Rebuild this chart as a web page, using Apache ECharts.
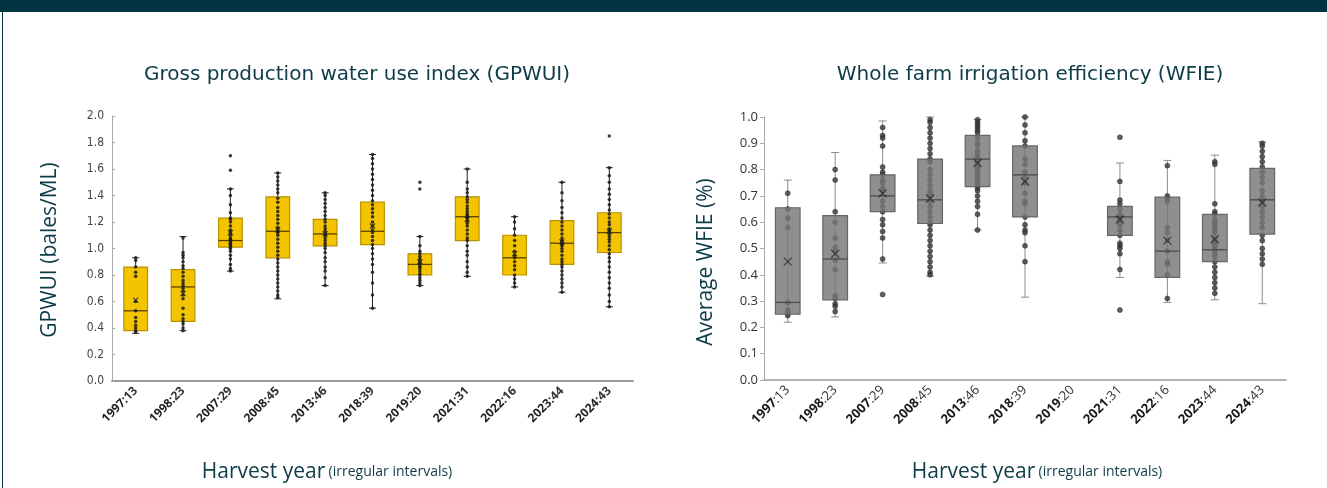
<!DOCTYPE html>
<html><head><meta charset="utf-8">
<script src="https://cdn.jsdelivr.net/npm/echarts@6/dist/echarts.min.js"></script>
<style>html,body{margin:0;padding:0;background:#fff}#c{width:1327px;height:488px}</style>
</head><body><div id="c"></div>
<script>
// ---------- DATA ----------
const categories = ['1997:13','1998:23','2007:29','2008:45','2013:46','2018:39','2019:20','2021:31','2022:16','2023:44','2024:43'];

// GPWUI (bales/ML): [min, Q1, median, Q3, max]
const gpwuiBoxes = [
  [0.36, 0.38, 0.53, 0.86, 0.93],
  [0.38, 0.45, 0.71, 0.84, 1.09],
  [0.83, 1.01, 1.06, 1.23, 1.45],
  [0.62, 0.93, 1.13, 1.39, 1.57],
  [0.72, 1.02, 1.11, 1.22, 1.42],
  [0.55, 1.03, 1.13, 1.35, 1.71],
  [0.72, 0.80, 0.88, 0.96, 1.09],
  [0.79, 1.06, 1.24, 1.39, 1.60],
  [0.71, 0.80, 0.93, 1.10, 1.24],
  [0.67, 0.88, 1.04, 1.21, 1.50],
  [0.56, 0.97, 1.12, 1.27, 1.61]
];
const gpwuiMeans = [0.61, 0.66, 1.12, 1.14, 1.11, 1.17, 0.90, 1.22, 0.96, 1.05, 1.13];
const gpwuiPoints = [
  [0.93,0.91,0.86,0.82,0.79,0.60,0.53,0.48,0.45,0.42,0.40,0.38,0.37],
  [1.08,0.97,0.95,0.93,0.90,0.87,0.85,0.82,0.79,0.76,0.74,0.72,0.70,0.68,0.65,0.62,0.55,0.50,0.47,0.45,0.43,0.40,0.38],
  [1.70,1.59,1.45,1.40,1.33,1.27,1.23,1.22,1.20,1.17,1.14,1.12,1.10,1.08,1.07,1.06,1.05,1.04,1.03,1.02,1.01,1.00,0.98,0.95,0.92,0.88,0.85,0.83],
  [1.57,1.54,1.51,1.48,1.45,1.42,1.38,1.35,1.31,1.28,1.25,1.22,1.19,1.16,1.14,1.13,1.12,1.10,1.07,1.04,1.01,0.98,0.95,0.92,0.89,0.86,0.83,0.80,0.77,0.74,0.71,0.68,0.65,0.63],
  [1.42,1.40,1.37,1.34,1.31,1.28,1.25,1.22,1.20,1.17,1.15,1.13,1.11,1.10,1.08,1.06,1.04,1.02,1.00,0.97,0.93,0.90,0.86,0.83,0.78,0.72],
  [1.71,1.68,1.64,1.60,1.56,1.52,1.48,1.44,1.40,1.36,1.33,1.30,1.27,1.24,1.20,1.17,1.14,1.12,1.09,1.06,1.03,1.00,0.96,0.92,0.88,0.82,0.74,0.65,0.55],
  [1.50,1.45,1.09,1.02,0.98,0.96,0.94,0.92,0.90,0.89,0.87,0.86,0.85,0.83,0.81,0.80,0.78,0.76,0.74,0.72],
  [1.60,1.50,1.45,1.42,1.39,1.37,1.35,1.32,1.30,1.28,1.26,1.25,1.24,1.23,1.21,1.19,1.17,1.14,1.11,1.08,1.06,1.02,0.98,0.95,0.90,0.86,0.82,0.79],
  [1.24,1.20,1.15,1.10,1.06,1.02,0.98,0.95,0.93,0.90,0.87,0.84,0.80,0.77,0.74,0.71],
  [1.50,1.42,1.36,1.31,1.27,1.23,1.20,1.17,1.14,1.11,1.08,1.06,1.05,1.04,1.03,1.02,1.00,0.98,0.95,0.92,0.90,0.88,0.86,0.83,0.80,0.77,0.74,0.71,0.67],
  [1.85,1.61,1.55,1.50,1.45,1.41,1.37,1.33,1.29,1.26,1.23,1.20,1.18,1.15,1.13,1.11,1.09,1.07,1.05,1.02,0.99,0.96,0.93,0.90,0.86,0.82,0.78,0.74,0.70,0.65,0.60,0.56]
];
const gpwuiTicks = [0,0.2,0.4,0.6,0.8,1.0,1.2,1.4,1.6,1.8,2.0];

// WFIE: [min, Q1, median, Q3, max]; 2019 has no data
const wfieBoxes = [
  [0.22, 0.25, 0.295, 0.655, 0.76],
  [0.24, 0.305, 0.46, 0.625, 0.865],
  [0.445, 0.64, 0.70, 0.78, 0.985],
  [0.395, 0.595, 0.685, 0.84, 1.0],
  [0.57, 0.735, 0.84, 0.93, 0.99],
  [0.315, 0.62, 0.78, 0.89, 1.0],
  null,
  [0.39, 0.55, 0.62, 0.66, 0.825],
  [0.295, 0.39, 0.49, 0.695, 0.835],
  [0.305, 0.45, 0.495, 0.63, 0.855],
  [0.29, 0.555, 0.685, 0.805, 0.905]
];
const wfieMeans = [0.45, 0.48, 0.71, 0.69, 0.825, 0.755, null, 0.61, 0.53, 0.535, 0.675];
const wfiePoints = [
  [0.71,0.65,0.615,0.58,0.295,0.265,0.255,0.245],
  [0.80,0.76,0.64,0.60,0.54,0.505,0.49,0.455,0.42,0.32,0.31,0.29,0.28,0.26],
  [0.96,0.93,0.92,0.89,0.81,0.79,0.78,0.76,0.75,0.73,0.72,0.68,0.66,0.64,0.61,0.59,0.565,0.54,0.46,0.325],
  [0.99,0.98,0.96,0.94,0.92,0.90,0.88,0.86,0.84,0.83,0.80,0.78,0.76,0.74,0.72,0.71,0.70,0.68,0.66,0.64,0.62,0.60,0.59,0.57,0.55,0.53,0.51,0.49,0.47,0.45,0.43,0.41,0.40],
  [0.99,0.98,0.97,0.96,0.95,0.94,0.92,0.90,0.89,0.87,0.86,0.85,0.84,0.83,0.82,0.81,0.80,0.79,0.78,0.77,0.76,0.75,0.74,0.73,0.72,0.70,0.68,0.66,0.63,0.57],
  [1.0,0.97,0.94,0.91,0.89,0.84,0.82,0.79,0.77,0.75,0.71,0.68,0.67,0.62,0.59,0.57,0.56,0.51,0.45],
  [],
  [0.923,0.755,0.684,0.67,0.65,0.63,0.62,0.61,0.60,0.59,0.57,0.55,0.52,0.51,0.50,0.48,0.42,0.266],
  [0.815,0.70,0.69,0.68,0.58,0.56,0.53,0.49,0.45,0.44,0.40,0.31],
  [0.83,0.82,0.67,0.64,0.63,0.61,0.60,0.59,0.58,0.57,0.56,0.54,0.53,0.52,0.51,0.50,0.49,0.48,0.47,0.45,0.43,0.41,0.39,0.37,0.35,0.33],
  [0.90,0.89,0.87,0.85,0.83,0.81,0.79,0.77,0.75,0.72,0.70,0.68,0.66,0.64,0.62,0.60,0.58,0.55,0.53,0.50,0.48,0.46,0.44]
];
const wfieTicks = [0,0.1,0.2,0.3,0.4,0.5,0.6,0.7,0.8,0.9,1.0];

// ---------- BUILD ----------
const TEAL = '#0d3b47';
function boxData(boxes){ const out=[]; boxes.forEach((b,i)=>{ if(b) out.push([i].concat(b)); }); return out; }
function pointData(pts){ const out=[]; pts.forEach((arr,i)=>arr.forEach(v=>out.push([i,v]))); return out; }
function meanData(m){ const out=[]; m.forEach((v,i)=>{ if(v!=null) out.push([i,v]); }); return out; }

function whiskerRender(color, cap){
  return function(params, api){
    const i = api.value(0);
    const pMin = api.coord([i, api.value(1)]);
    const pMax = api.coord([i, api.value(5)]);
    const x = pMin[0];
    const st = {stroke: color, lineWidth: 1};
    return {type:'group', children:[
      {type:'line', shape:{x1:x,y1:pMax[1],x2:x,y2:pMin[1]}, style:st},
      {type:'line', shape:{x1:x-cap/2,y1:pMax[1],x2:x+cap/2,y2:pMax[1]}, style:st},
      {type:'line', shape:{x1:x-cap/2,y1:pMin[1],x2:x+cap/2,y2:pMin[1]}, style:st}
    ]};
  };
}
function boxRender(fill, stroke, medColor, ratio){
  return function(params, api){
    const i = api.value(0);
    const pQ1 = api.coord([i, api.value(2)]);
    const pMed = api.coord([i, api.value(3)]);
    const pQ3 = api.coord([i, api.value(4)]);
    const bw = api.size([1,0])[0]*ratio;
    const x = pMed[0];
    return {type:'group', children:[
      {type:'rect', shape:{x:x-bw/2, y:pQ3[1], width:bw, height:pQ1[1]-pQ3[1]}, style:{fill:fill, stroke:stroke, lineWidth:1.2}},
      {type:'line', shape:{x1:x-bw/2,y1:pMed[1],x2:x+bw/2,y2:pMed[1]}, style:{stroke:medColor, lineWidth:1.3}}
    ]};
  };
}
const xPath = 'path://M0,0L10,10M10,0L0,10';

const chart = echarts.init(document.getElementById('c'));
chart.setOption({
  animation: false,
  backgroundColor: '#fff',
  grid: [
    {left: 112, top: 116, width: 521, height: 265},
    {left: 764, top: 117, width: 522, height: 263}
  ],
  xAxis: [
    {gridIndex:0, type:'category', data: categories, boundaryGap:true,
     axisLine:{lineStyle:{color:'#9a9a9a', width:2}}, axisTick:{show:false},
     axisLabel:{rotate:45, margin:8, interval:0, color:'#222', fontFamily:'Open Sans', fontSize:12,
       formatter: v => { const p=v.split(':'); return '{y|'+p[0]+'}{n|:'+p[1]+'}'; },
       rich:{y:{fontWeight:'bold', fontSize:12, fontFamily:'Open Sans', color:'#222'}, n:{fontWeight:'bold', fontSize:12, fontFamily:'Open Sans', color:'#333'}}}},
    {gridIndex:1, type:'category', data: categories, boundaryGap:true,
     axisLine:{lineStyle:{color:'#9a9a9a', width:1.5}}, axisTick:{show:false},
     axisLabel:{rotate:45, margin:8, interval:0, color:'#222', fontFamily:'Open Sans', fontSize:13,
       formatter: v => { const p=v.split(':'); return '{y|'+p[0]+'}{n|:'+p[1]+'}'; },
       rich:{y:{fontWeight:'bold', fontSize:13, fontFamily:'Open Sans', color:'#1a1a1a'}, n:{fontWeight:'normal', fontSize:13, fontFamily:'Open Sans', color:'#333'}}}}
  ],
  yAxis: [
    {gridIndex:0, type:'value', min:gpwuiTicks[0], max:gpwuiTicks[gpwuiTicks.length-1], interval:0.2,
     axisLine:{show:true, lineStyle:{color:'#aaa', width:1}}, axisTick:{show:true, inside:true, length:3, lineStyle:{color:'#aaa'}},
     splitLine:{show:false},
     axisLabel:{color:'#444', fontSize:12, fontFamily:'"Liberation Sans Narrow","DejaVu Sans Condensed",sans-serif', margin:8, formatter:v=>v.toFixed(1)}},
    {gridIndex:1, type:'value', min:wfieTicks[0], max:wfieTicks[wfieTicks.length-1], interval:0.1,
     axisLine:{show:true, lineStyle:{color:'#aaa', width:1}}, axisTick:{show:true, length:4, lineStyle:{color:'#aaa'}},
     splitLine:{show:false},
     axisLabel:{color:'#333', fontSize:13, fontFamily:'"Liberation Sans Narrow","Open Sans",sans-serif', margin:6, formatter:v=>v.toFixed(1)}}
  ],
  series: [
    // Left chart
    {type:'custom', xAxisIndex:0, yAxisIndex:0, data: boxData(gpwuiBoxes), renderItem: whiskerRender('#222', 7), z:1},
    {type:'custom', xAxisIndex:0, yAxisIndex:0, data: boxData(gpwuiBoxes), renderItem: boxRender('#F5C400', '#B89300', '#5a4300', 0.5), z:2},
    {type:'scatter', xAxisIndex:0, yAxisIndex:0, data: pointData(gpwuiPoints), symbolSize:3.5, itemStyle:{color:'#1a1a1a', opacity:0.85}, z:3},
    {type:'scatter', xAxisIndex:0, yAxisIndex:0, data: meanData(gpwuiMeans), symbol:xPath, symbolSize:5, itemStyle:{color:'rgba(0,0,0,0)', borderColor:'#222', borderWidth:1.2}, z:4},
    // Right chart
    {type:'custom', xAxisIndex:1, yAxisIndex:1, data: boxData(wfieBoxes), renderItem: whiskerRender('#8c8c8c', 8), z:1},
    {type:'scatter', xAxisIndex:1, yAxisIndex:1, data: pointData(wfiePoints), symbolSize:5, itemStyle:{color:'#3a3a3a', borderColor:'#222', borderWidth:0.6}, z:2},
    {type:'custom', xAxisIndex:1, yAxisIndex:1, data: boxData(wfieBoxes), renderItem: boxRender('rgba(118,118,118,0.82)', '#666', '#4a4a4a', 0.52), z:3},
    {type:'scatter', xAxisIndex:1, yAxisIndex:1, data: meanData(wfieMeans), symbol:xPath, symbolSize:8, itemStyle:{color:'rgba(0,0,0,0)', borderColor:'#2a2a2a', borderWidth:1.3}, z:4}
  ],
  graphic: [
    {type:'rect', left:0, top:0, shape:{width:1327, height:12}, style:{fill:'#003442'}, silent:true},
    {type:'rect', left:2, top:12, shape:{width:1, height:476}, style:{fill:'#003442'}, silent:true},
    {type:'text', x:357, y:75, style:{text:'Gross production water use index (GPWUI)', font:'20px "DejaVu Sans"', fill:TEAL, align:'center', verticalAlign:'middle'}},
    {type:'text', x:1030, y:75, style:{text:'Whole farm irrigation efficiency (WFIE)', font:'20px "DejaVu Sans"', fill:TEAL, align:'center', verticalAlign:'middle'}},
    {type:'text', x:50, y:250, rotation:Math.PI/2, style:{text:'GPWUI (bales/ML)', font:'21px "Open Sans"', fill:TEAL, align:'center', verticalAlign:'middle'}},
    {type:'text', x:706, y:262, rotation:Math.PI/2, style:{text:'Average WFIE (%)', font:'21px "Open Sans"', fill:TEAL, align:'center', verticalAlign:'middle'}},
    {type:'text', x:327, y:472, style:{text:'{a|Harvest year} {b|(irregular intervals)}', align:'center', verticalAlign:'middle',
      rich:{a:{fontSize:21, fontFamily:'Open Sans', fill:TEAL, color:TEAL}, b:{fontSize:14, fontFamily:'Open Sans', fill:TEAL, color:TEAL}}}},
    {type:'text', x:1037, y:472, style:{text:'{a|Harvest year} {b|(irregular intervals)}', align:'center', verticalAlign:'middle',
      rich:{a:{fontSize:21, fontFamily:'Open Sans', fill:TEAL, color:TEAL}, b:{fontSize:14, fontFamily:'Open Sans', fill:TEAL, color:TEAL}}}}
  ]
});
</script></body></html>
